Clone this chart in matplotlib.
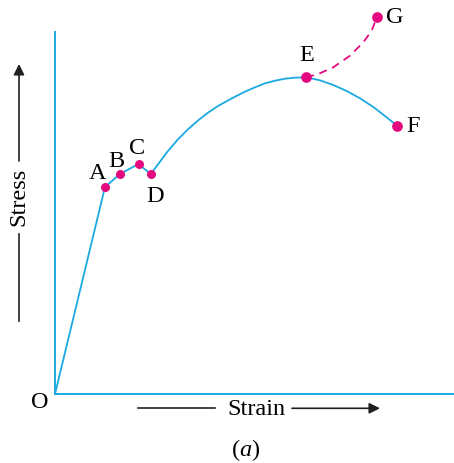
import matplotlib
matplotlib.use("Agg")
import matplotlib.pyplot as plt

# stress-strain curve (arbitrary units)
elastic_x = [0.0, 5.0, 6.5, 8.35, 9.57]
elastic_y = [0.0, 20.7, 22.0, 23.0, 22.0]

harden_x = [9.57, 10.3, 11.3, 12.3, 13.3, 14.3, 15.3, 16.3, 17.3, 18.0, 19.0, 20.0,
            21.0, 22.0, 23.0, 24.0, 25.1,
            26.5, 27.83, 29.17, 30.5, 31.83, 33.0, 34.23]
harden_y = [22.0, 22.97, 24.3, 25.47, 26.47, 27.35, 28.13, 28.8, 29.35, 29.73, 30.23, 30.67,
            31.07, 31.33, 31.53, 31.63, 31.67,
            31.37, 30.9, 30.3, 29.57, 28.7, 27.8, 26.8]

true_x = [25.1, 26.33, 27.83, 29.5, 30.83, 31.67, 32.2]
true_y = [31.67, 32.0, 32.67, 33.83, 35.17, 36.33, 37.73]

small_pts = ["A", "B", "C", "D"]
small_x = [5.0, 6.5, 8.35, 9.57]
small_y = [20.7, 22.0, 23.0, 22.0]
big_pts = ["E", "F", "G"]
big_x = [25.1, 34.23, 32.2]
big_y = [31.67, 26.8, 37.73]

# label offsets in pixels
offsets = {"A": (-7, 14), "B": (-4, 13), "C": (-1, 16), "D": (4, -22),
           "E": (1, 23), "F": (16, 0), "G": (18, 0)}

CYAN = "#1BA9E1"
MAGENTA = "#E5097F"
INK = "#231F20"
FS = 17.5

plt.rcParams["font.family"] = ["Liberation Serif", "DejaVu Serif"]
plt.rcParams["mathtext.fontset"] = "custom"
plt.rcParams["mathtext.it"] = "Liberation Serif:italic"
plt.rcParams["mathtext.rm"] = "Liberation Serif"

fig = plt.figure(figsize=(4.54, 4.64), dpi=100)
ax = fig.add_axes([0, 0, 1, 1])
ax.set_xlim(-5.5, 39.9)
ax.set_ylim(-6.9, 39.5)

for side in ["top", "right"]:
    ax.spines[side].set_visible(False)
ax.spines["left"].set_position(("data", 0))
ax.spines["bottom"].set_position(("data", 0))
ax.spines["left"].set_bounds(0, 36.2)
ax.spines["bottom"].set_bounds(0, 39.9)
for side in ["left", "bottom"]:
    ax.spines[side].set_color(CYAN)
    ax.spines[side].set_linewidth(1.4)
ax.set_xticks([])
ax.set_yticks([])
ax.patch.set_alpha(0)

ax.plot(elastic_x, elastic_y, color=CYAN, lw=1.3, solid_joinstyle="round")
ax.plot(harden_x, harden_y, color=CYAN, lw=1.3, solid_joinstyle="round")
ax.plot(true_x, true_y, color=MAGENTA, lw=1.3, ls=(0, (4.5, 3.2)))

ax.plot(small_x, small_y, "o", color=MAGENTA, ms=6.5, mec="none", zorder=5)
ax.plot(big_x, big_y, "o", color=MAGENTA, ms=7.7, mec="none", zorder=5)

for name, x, y in zip(small_pts + big_pts, small_x + big_x, small_y + big_y):
    ax.annotate(name, (x, y), xytext=offsets[name], textcoords="offset pixels",
                ha="center", va="center", fontsize=FS)

ax.text(-1.57, -0.73, "O", ha="center", va="center", fontsize=FS)

# axis captions with arrows
ax.text(20.1, -1.5, "Strain", ha="center", va="center", fontsize=FS)
ax.plot([8.3, 16.0], [-1.43, -1.43], color=INK, lw=1.2)
ax.annotate("", xy=(32.5, -1.43), xytext=(23.7, -1.43),
            arrowprops=dict(arrowstyle="-|>", color=INK, lw=1.2,
                            mutation_scale=16, shrinkA=0, shrinkB=0))

ax.text(-3.6, 19.8, "Stress", ha="center", va="center", fontsize=FS, rotation=90)
ax.plot([-3.6, -3.6], [7.3, 16.0], color=INK, lw=1.2)
ax.annotate("", xy=(-3.6, 33.0), xytext=(-3.6, 23.3),
            arrowprops=dict(arrowstyle="-|>", color=INK, lw=1.2,
                            mutation_scale=16, shrinkA=0, shrinkB=0))

ax.text(19.07, -5.5, "($\\mathit{a}$)", ha="center", va="center", fontsize=FS)

fig.savefig("out.png", dpi=100)
